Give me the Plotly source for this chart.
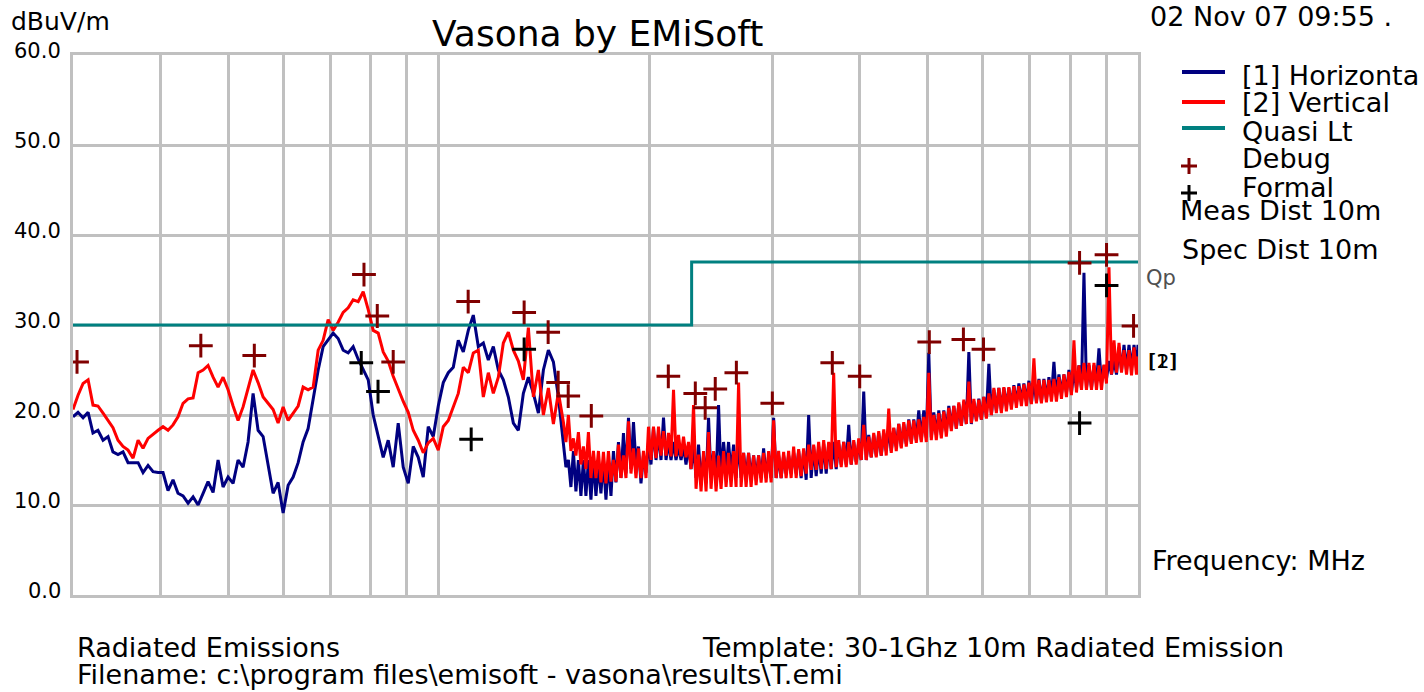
import plotly.graph_objects as go

# Sweep frequencies (MHz) shared by both polarisations.
# Below 150 MHz one reading per display column; above, a max/min pair per column.
freq_mhz = [
    30.00, 30.50, 31.01, 31.53, 32.04, 32.57, 33.12, 33.67, 34.22, 34.79,
    35.37, 35.96, 36.56, 37.17, 37.78, 38.41, 39.05, 39.70, 40.35, 41.02,
    41.70, 42.39, 43.10, 43.82, 44.55, 45.29, 46.04, 46.80, 47.58, 48.37,
    49.17, 49.99, 50.82, 51.66, 52.52, 53.39, 54.28, 55.18, 56.10, 57.03,
    57.98, 58.94, 59.92, 60.92, 61.93, 62.96, 64.00, 65.06, 66.15, 67.25,
    68.36, 69.50, 70.65, 71.82, 73.02, 74.23, 75.47, 76.72, 78.00, 79.30,
    80.61, 81.95, 83.31, 84.69, 86.10, 87.53, 88.99, 90.47, 91.97, 93.50,
    95.05, 96.63, 98.24, 99.87, 101.53, 103.22, 104.93, 106.67, 108.45, 110.25,
    112.08, 113.94, 115.84, 117.76, 119.72, 121.71, 123.73, 125.79, 127.88, 130.00,
    132.16, 134.36, 136.59, 138.86, 141.17, 143.51, 145.90, 148.32,
    150.79, 152.04, 153.29, 154.56, 155.84, 157.13, 158.43, 159.74, 161.06, 162.39,
    163.74, 165.10, 166.46, 167.84, 169.22, 170.62, 172.04, 173.46, 174.90, 176.35,
    177.80, 179.27, 180.75, 182.25, 183.76, 185.28, 186.81, 188.36, 189.92, 191.49,
    193.07, 194.67, 196.28, 197.91, 199.54, 201.19, 202.86, 204.54, 206.23, 207.94,
    209.66, 211.40, 213.14, 214.91, 216.68, 218.47, 220.28, 222.10, 223.94, 225.79,
    227.66, 229.55, 231.45, 233.37, 235.29, 237.24, 239.20, 241.18, 243.18, 245.19,
    247.22, 249.27, 251.32, 253.40, 255.50, 257.62, 259.74, 261.89, 264.06, 266.25,
    268.45, 270.67, 272.91, 275.17, 277.44, 279.74, 282.06, 284.40, 286.75, 289.12,
    291.51, 293.92, 296.35, 298.80, 301.28, 303.78, 306.28, 308.82, 311.37, 313.95,
    316.54, 319.16, 321.81, 324.48, 327.15, 329.86, 332.59, 335.35, 338.12, 340.92,
    343.74, 346.59, 349.45, 352.34, 355.26, 358.20, 361.16, 364.15, 367.16, 370.20,
    373.26, 376.35, 379.46, 382.60, 385.77, 388.97, 392.18, 395.43, 398.70, 402.00,
    405.32, 408.68, 412.06, 415.47, 418.90, 422.37, 425.86, 429.39, 432.94, 436.53,
    440.13, 443.78, 447.45, 451.16, 454.88, 458.65, 462.44, 466.27, 470.13, 474.02,
    477.94, 481.90, 485.88, 489.90, 493.95, 498.04, 502.16, 506.32, 510.50, 514.73,
    518.99, 523.29, 527.61, 531.98, 536.38, 540.82, 545.29, 549.81, 554.35, 558.94,
    563.57, 568.24, 572.94, 577.69, 582.45, 587.27, 592.13, 597.03, 601.97, 606.96,
    611.98, 617.05, 622.14, 627.29, 632.48, 637.72, 642.99, 648.32, 653.68, 659.09,
    664.53, 670.03, 675.58, 681.18, 686.80, 692.49, 698.21, 703.99, 709.82, 715.70,
    721.62, 727.60, 733.60, 739.68, 745.79, 751.97, 758.19, 764.47, 770.79, 777.17,
    783.60, 790.09, 796.62, 803.22, 809.85, 816.56, 823.31, 830.13, 836.99, 843.92,
    850.90, 857.95, 865.04, 872.20, 879.42, 886.70, 894.03, 901.44, 908.88, 916.41,
    923.99, 931.64, 939.35, 947.13, 954.95, 962.86, 970.82, 978.86, 986.95, 995.00,
    1000.0,
]

# [1] Horizontal polarisation, dBuV/m
horizontal_dbuv = [
    19.8, 20.3, 19.7, 20.3, 18.0, 18.3, 17.2, 17.6, 15.9, 15.6,
    15.9, 14.7, 14.7, 14.7, 13.6, 14.4, 13.7, 13.6, 13.6, 11.6,
    12.8, 11.3, 11.0, 10.2, 10.9, 10.0, 11.3, 12.6, 11.4, 15.0,
    12.0, 13.1, 12.4, 15.0, 14.2, 17.0, 22.4, 18.3, 17.6, 14.5,
    11.3, 12.5, 9.1, 12.2, 13.1, 14.7, 17.0, 18.5, 22.0, 25.0,
    27.6, 28.3, 29.1, 28.5, 27.2, 26.9, 27.6, 26.2, 25.0, 23.9,
    20.0, 17.6, 15.3, 17.2, 14.2, 19.1, 14.2, 12.4, 16.5, 15.3,
    13.1, 18.7, 17.6, 21.0, 23.6, 24.7, 25.3, 28.3, 27.0, 29.4,
    31.1, 27.6, 28.0, 26.1, 27.6, 25.0, 23.9, 22.0, 19.1, 18.3,
    22.4, 24.2, 22.4, 20.2, 25.0, 27.2, 25.9, 22.0,
    17.2, 14.2, 15.0, 12.0, 16.0, 11.5, 15.0, 11.0, 15.0, 11.0,
    15.0, 10.6, 15.0, 11.0, 14.5, 11.3, 15.0, 10.6, 15.0, 11.0,
    16.0, 12.5, 17.0, 13.0, 18.0, 13.5, 19.7, 14.0, 19.2, 14.5,
    16.5, 12.4, 15.5, 13.6, 17.0, 14.5, 18.6, 15.0, 18.0, 15.0,
    19.7, 15.0, 17.0, 15.0, 17.0, 15.0, 16.5, 15.0, 16.5, 14.5,
    16.7, 14.0, 16.5, 13.0, 16.7, 12.4, 15.5, 12.4, 19.7, 13.0,
    15.9, 12.5, 21.1, 13.0, 17.0, 13.9, 17.0, 13.5, 16.7, 13.0,
    17.0, 13.0, 15.8, 13.0, 15.8, 13.0, 15.5, 13.0, 15.5, 13.0,
    16.3, 13.0, 15.5, 13.0, 19.7, 13.0, 15.5, 13.0, 15.5, 13.5,
    15.5, 13.5, 15.8, 13.5, 16.0, 13.0, 16.0, 12.8, 20.0, 13.0,
    16.5, 13.2, 16.5, 13.5, 16.8, 13.5, 16.8, 14.0, 17.0, 14.0,
    16.8, 14.5, 17.0, 14.5, 18.9, 14.5, 17.0, 14.8, 17.0, 15.0,
    22.6, 15.0, 17.8, 15.3, 17.8, 15.5, 18.0, 15.5, 18.0, 16.0,
    18.5, 16.0, 18.5, 16.5, 19.0, 16.5, 19.0, 16.8, 19.5, 17.0,
    19.5, 17.2, 20.5, 17.2, 20.5, 17.5, 26.9, 17.5, 20.3, 17.8,
    20.5, 17.8, 20.5, 18.2, 21.0, 18.5, 21.0, 18.5, 21.2, 18.8,
    21.5, 19.0, 27.0, 19.0, 21.5, 19.5, 21.8, 19.5, 22.0, 20.0,
    25.7, 20.0, 22.8, 20.5, 23.0, 20.5, 23.0, 21.0, 23.0, 21.0,
    23.3, 21.3, 23.5, 21.5, 23.5, 21.5, 23.8, 21.3, 23.8, 21.5,
    24.0, 21.5, 24.0, 21.8, 24.2, 22.0, 25.9, 22.0, 24.5, 22.3,
    24.5, 22.5, 25.0, 22.5, 25.0, 23.0, 25.5, 23.0, 35.8, 23.0,
    25.5, 23.0, 25.5, 23.5, 27.4, 23.5, 25.5, 24.0, 26.0, 24.5,
    26.0, 24.5, 27.5, 25.0, 27.8, 25.0, 27.8, 25.2, 27.8, 25.2,
    27.8,
]

# [2] Vertical polarisation, dBuV/m
vertical_dbuv = [
    20.6, 22.2, 23.5, 23.9, 21.1, 21.0, 20.2, 19.4, 18.6, 17.2,
    16.5, 16.1, 15.2, 17.2, 16.3, 17.4, 17.8, 18.3, 18.7, 18.3,
    18.9, 19.8, 21.3, 21.8, 21.9, 24.7, 25.0, 25.5, 24.2, 23.1,
    24.2, 22.8, 21.0, 19.4, 20.9, 23.1, 25.0, 23.6, 22.0, 21.3,
    20.6, 19.1, 20.9, 19.4, 20.2, 21.0, 23.1, 22.8, 23.1, 27.2,
    28.3, 30.6, 29.4, 30.3, 31.4, 31.9, 32.8, 32.6, 33.7, 31.7,
    29.4, 29.1, 27.0, 26.0, 24.3, 22.8, 21.5, 20.3, 18.3, 17.2,
    15.8, 16.9, 17.4, 16.1, 18.7, 19.4, 20.9, 22.4, 25.3, 24.7,
    26.9, 27.2, 22.0, 24.7, 22.4, 24.2, 28.0, 29.2, 27.2, 26.0,
    23.9, 29.7, 22.0, 25.0, 20.0, 23.0, 19.0, 22.5,
    19.2, 17.0, 20.0, 16.0, 17.4, 15.5, 18.1, 14.5, 16.5, 14.0,
    18.1, 13.0, 16.0, 13.0, 16.0, 12.5, 15.9, 12.4, 16.0, 12.6,
    15.0, 12.6, 16.7, 13.0, 15.5, 13.0, 19.3, 13.5, 16.3, 13.0,
    16.3, 13.0, 16.0, 13.0, 18.7, 15.0, 18.7, 15.2, 18.7, 15.5,
    18.2, 15.5, 18.0, 15.4, 22.8, 15.4, 17.8, 15.4, 17.6, 15.3,
    17.0, 14.0, 21.1, 11.8, 15.6, 11.5, 16.0, 11.5, 18.1, 11.8,
    16.0, 11.5, 15.5, 11.8, 16.0, 12.0, 15.8, 12.0, 16.0, 12.0,
    23.6, 12.0, 15.8, 12.0, 15.8, 12.0, 15.5, 12.2, 15.5, 12.5,
    15.8, 12.5, 16.0, 12.5, 19.4, 13.0, 16.0, 13.0, 15.9, 13.0,
    16.0, 13.0, 16.5, 13.0, 16.2, 13.2, 16.3, 13.5, 16.7, 13.9,
    16.7, 13.9, 17.0, 14.0, 17.2, 14.0, 17.0, 14.0, 24.7, 14.2,
    17.2, 14.2, 17.0, 14.2, 17.0, 14.5, 17.2, 14.5, 17.4, 15.0,
    18.9, 15.0, 17.6, 15.3, 18.0, 15.3, 18.2, 15.5, 18.4, 15.5,
    20.7, 15.8, 18.6, 16.0, 19.0, 16.3, 19.2, 16.5, 19.4, 16.8,
    19.4, 16.9, 19.5, 17.0, 19.8, 17.0, 24.7, 17.2, 20.0, 17.2,
    20.2, 17.4, 20.4, 17.6, 20.8, 18.2, 21.0, 18.5, 21.4, 18.8,
    21.7, 19.0, 23.7, 19.1, 21.8, 19.3, 21.7, 19.5, 22.0, 19.6,
    22.4, 20.0, 23.0, 20.2, 23.0, 20.2, 23.1, 20.4, 23.1, 20.6,
    23.2, 20.8, 23.2, 21.0, 23.4, 21.0, 23.6, 21.2, 26.3, 21.3,
    23.9, 21.3, 23.9, 21.4, 23.9, 21.5, 24.0, 21.5, 24.2, 21.8,
    24.5, 22.0, 24.8, 22.2, 28.3, 22.5, 25.5, 22.8, 25.8, 22.8,
    25.8, 22.8, 25.8, 22.8, 25.5, 22.8, 25.6, 23.5, 36.4, 24.5,
    28.3, 24.7, 28.0, 24.7, 27.2, 24.5, 27.2, 24.4, 27.5, 24.5,
    26.5,
]

# Quasi-peak limit line
limit_freq = [30, 230, 230, 1000]
limit_dbuv = [30, 30, 37, 37]

# Debug (preview) peaks and formal measurements
debug_freq = [30.4, 45.7, 54.5, 78.2, 81.7, 86.1, 110.2, 132.5, 143.4, 148.2,
              153.2, 165.3, 213.0, 232.8, 240.5, 248.6, 266.5, 300.0, 365.5, 400.0,
              503.0, 562.8, 601.3, 825.0, 901.6, 985.5]
debug_dbuv = [25.9, 27.7, 26.6, 35.6, 31.0, 25.9, 32.6, 31.4, 29.2, 23.6,
              22.1, 19.9, 24.3, 22.4, 20.8, 22.9, 24.7, 21.3, 25.8, 24.3,
              28.1, 28.4, 27.3, 36.9, 37.8, 29.9]
formal_freq = [77.5, 81.9, 111.3, 132.5, 825.0, 901.6]
formal_dbuv = [25.8, 22.6, 17.3, 27.3, 19.1, 34.4]

y_ticks = [0, 10, 20, 30, 40, 50, 60]
x_grid = [30, 40, 50, 60, 70, 80, 90, 100, 200, 300, 400, 500, 600, 700, 800, 900, 1000]
x_labels = [30, 100, 1000]

NAVY = "#000080"
RED = "#FF0000"
TEAL = "#008080"
MAROON = "#800000"
GRID = "#C0C0C0"
FONT = "DejaVu Sans"

W, H = 1424, 692
L, R, T, B = 73, 1138, 55, 595


def px(x):
    return (x - L) / (R - L)


def py(y):
    return (B - y) / (B - T)


fig = go.Figure()
fig.add_trace(go.Scatter(x=freq_mhz, y=horizontal_dbuv, mode="lines",
                         line=dict(color=NAVY, width=3), name="[1] Horizontal"))
fig.add_trace(go.Scatter(x=freq_mhz, y=vertical_dbuv, mode="lines",
                         line=dict(color=RED, width=3), name="[2] Vertical"))
fig.add_trace(go.Scatter(x=limit_freq, y=limit_dbuv, mode="lines",
                         line=dict(color=TEAL, width=3), name="Quasi Lt"))
fig.add_trace(go.Scatter(x=debug_freq, y=debug_dbuv, mode="markers", name="Debug",
                         marker=dict(symbol="cross-thin", size=17,
                                     line=dict(color=MAROON, width=3))))
fig.add_trace(go.Scatter(x=formal_freq, y=formal_dbuv, mode="markers", name="Formal",
                         marker=dict(symbol="cross-thin", size=17,
                                     line=dict(color="black", width=3))))

annotations = []


def text(s, x, y, size, anchor="left", color="black"):
    annotations.append(dict(text=s, x=px(x), y=py(y), xref="paper", yref="paper",
                            xanchor=anchor, yanchor="middle", showarrow=False,
                            font=dict(family=FONT, size=size, color=color)))


text("Vasona by EMiSoft", 597, 33, 36, "center")
text("dBuV/m", 9, 21, 25)
text("02 Nov 07 09:55 .", 1148, 16, 27)
text("[1] Horizonta", 1240, 75, 27)
text("[2] Vertical", 1240, 102, 27)
text("Quasi Lt", 1240, 131, 27)
text("Debug", 1240, 158, 27)
text("Formal", 1240, 187, 27)
text("Meas Dist 10m", 1178, 210, 27)
text("Spec Dist 10m", 1180, 249, 27)
text("Qp", 1144, 278, 21, color="#505050")
text("[2]", 1147, 361, 20)
text("[1]", 1146, 361, 20)
text("Frequency: MHz", 1150, 560, 27)
text("Radiated Emissions", 75, 647, 27)
text(r"Filename: c:\program files\emisoft - vasona\results\T.emi", 75, 674, 27)
text("Template: 30-1Ghz 10m Radiated Emission", 700, 647, 27)

# value labels for the axes
for v in y_ticks:
    annotations.append(dict(text=f"{v:.1f}", x=px(63), y=v, xref="paper", yref="y",
                            xanchor="right", yanchor="middle", yshift=4, showarrow=False,
                            font=dict(family=FONT, size=21, color="black")))
for f in x_labels:
    annotations.append(dict(text=f"{f:.1f}", x=f, y=py(607), xref="x", yref="paper",
                            xanchor="left", yanchor="middle", xshift=1, showarrow=False,
                            font=dict(family=FONT, size=21, color="black")))

# legend keys
shapes = []
for y, c in [(72, NAVY), (102, RED), (128, TEAL)]:
    shapes.append(dict(type="line", xref="paper", yref="paper",
                       x0=px(1182), x1=px(1225), y0=py(y), y1=py(y),
                       line=dict(color=c, width=4)))
for (cx, cy), c in [((1189, 166), MAROON), ((1189, 193), "black")]:
    shapes.append(dict(type="line", xref="paper", yref="paper",
                       x0=px(cx - 8), x1=px(cx + 8), y0=py(cy), y1=py(cy),
                       line=dict(color=c, width=3)))
    shapes.append(dict(type="line", xref="paper", yref="paper",
                       x0=px(cx), x1=px(cx), y0=py(cy - 8), y1=py(cy + 8),
                       line=dict(color=c, width=3)))

fig.update_layout(
    width=W, height=H, autosize=False,
    margin=dict(l=L, r=W - R, t=T, b=H - B, pad=0),
    paper_bgcolor="white", plot_bgcolor="white",
    showlegend=False,
    annotations=annotations, shapes=shapes,
    xaxis=dict(type="log", range=[1.4771213, 3.0], tickvals=x_grid,
               showticklabels=False, ticks="", showgrid=True, gridcolor=GRID,
               gridwidth=3, showline=True, linecolor=GRID, linewidth=3, mirror=True,
               zeroline=False),
    yaxis=dict(range=[0, 60], tickvals=y_ticks, showticklabels=False, ticks="",
               showgrid=True, gridcolor=GRID, gridwidth=3, showline=True,
               linecolor=GRID, linewidth=3, mirror=True, zeroline=False),
)

fig.write_html("out.html")
